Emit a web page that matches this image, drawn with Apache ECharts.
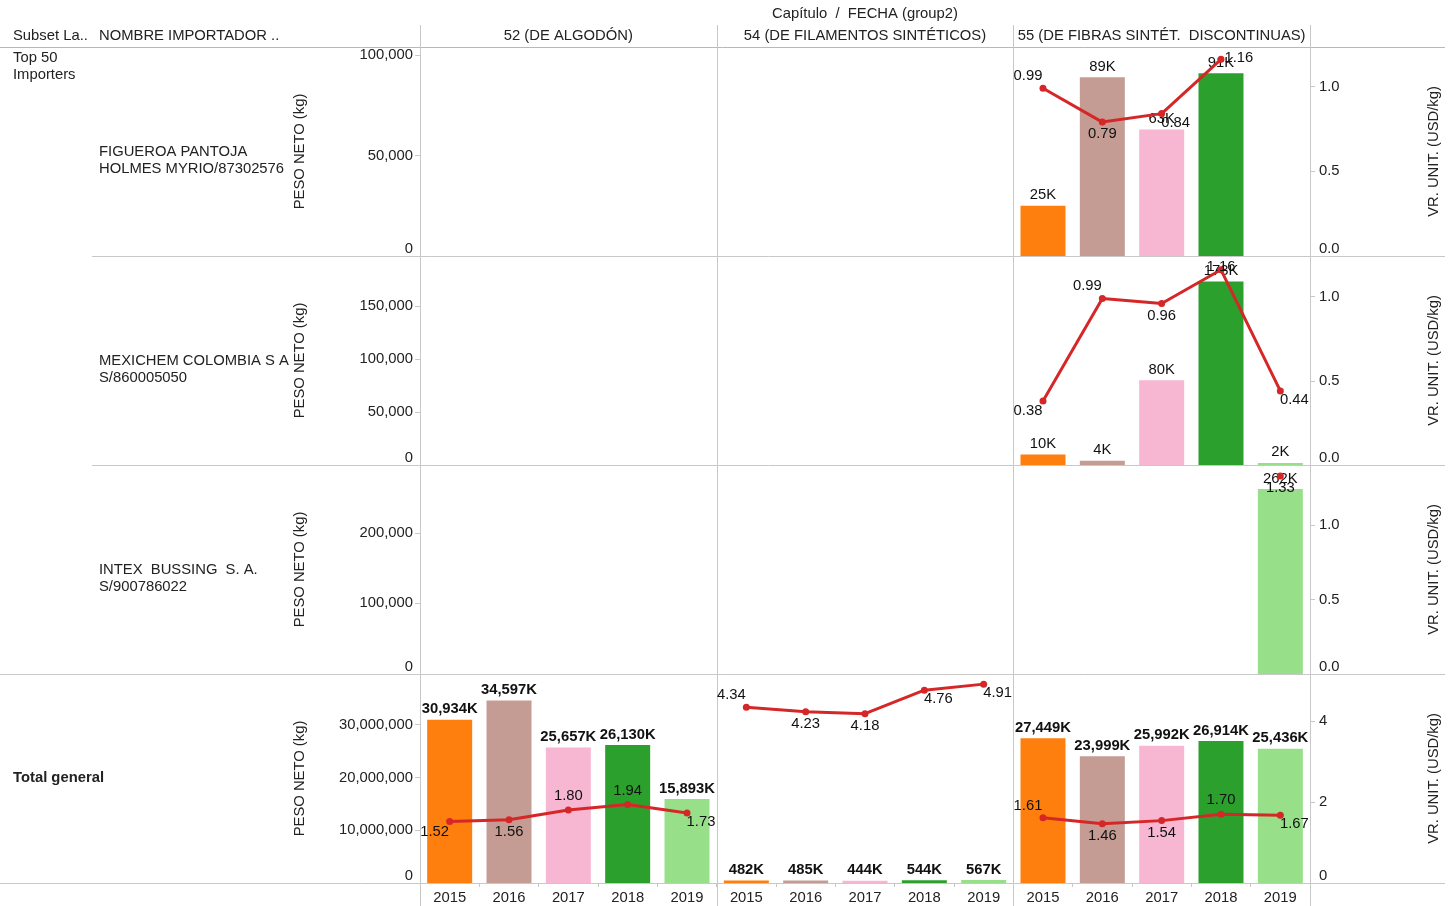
<!DOCTYPE html>
<html><head><meta charset="utf-8">
<script src="https://cdn.jsdelivr.net/npm/echarts@6/dist/echarts.min.js"></script>
<style>html,body{margin:0;padding:0;background:#fff}#c{width:1450px;height:906px}</style>
</head><body><div id="c"></div>
<script>
// ---------- DATA ----------
const years = ['2015', '2016', '2017', '2018', '2019'];
const chapters = ['52 (DE ALGODÓN)', '54 (DE FILAMENTOS SINTÉTICOS)', '55 (DE FIBRAS SINTÉT.  DISCONTINUAS)'];
const importers = ['FIGUEROA PANTOJA\nHOLMES MYRIO/87302576', 'MEXICHEM COLOMBIA S A\nS/860005050', 'INTEX  BUSSING  S. A.\nS/900786022'];

// PESO NETO (kg)
const pesoFigueroa55 = [25000, 89000, 63000, 91000, null];
const pesoMexichem55 = [10000, 4000, 80000, 173000, 2000];
const pesoIntex55 = [null, null, null, null, 262000];
const pesoTotal52 = [30934000, 34597000, 25657000, 26130000, 15893000];
const pesoTotal54 = [482000, 485000, 444000, 544000, 567000];
const pesoTotal55 = [27449000, 23999000, 25992000, 26914000, 25436000];

// VR. UNIT. (USD/kg)
const vrFigueroa55 = [0.99, 0.79, 0.84, 1.16, null];
const vrMexichem55 = [0.38, 0.99, 0.96, 1.16, 0.44];
const vrIntex55 = [null, null, null, null, 1.33];
const vrTotal52 = [1.52, 1.56, 1.80, 1.94, 1.73];
const vrTotal54 = [4.34, 4.23, 4.18, 4.76, 4.91];
const vrTotal55 = [1.61, 1.46, 1.54, 1.70, 1.67];

// tick labels per row
const pesoTicks = [[0, 50000, 100000], [0, 50000, 100000, 150000], [0, 100000, 200000], [0, 10000000, 20000000, 30000000]];
const vrTicks = [[0, 0.5, 1.0], [0, 0.5, 1.0], [0, 0.5, 1.0], [0, 2, 4]];

// ---------- LAYOUT / STYLE ----------
const pesoMax = [104000, 197000, 296000, 39600000];
const vrMax = [1.233, 1.242, 1.404, 5.16];
const vrDecimals = [1, 1, 1, 0];
const yearColors = ['#ff7f0e', '#c49c94', '#f7b6d2', '#2ca02c', '#98df8a'];
const lineColor = '#d62728';
const FONT = '"Liberation Sans", Arial, sans-serif';
const FS = 14.8;
const TXT = '#222';
const SEP = '#c8c8c8';

// cell map: [row][col]
const cells = [
  [null, null, {peso: pesoFigueroa55, vr: vrFigueroa55}],
  [null, null, {peso: pesoMexichem55, vr: vrMexichem55}],
  [null, null, {peso: pesoIntex55, vr: vrIntex55}],
  [{peso: pesoTotal52, vr: vrTotal52}, {peso: pesoTotal54, vr: vrTotal54}, {peso: pesoTotal55, vr: vrTotal55}]
];
// label placement for VR labels (style only)
const vrPlace = {
  '0_2': ['tl', 'b', 'br', 'r', 'b'],
  '1_2': ['bl', 'tl', 'b', 'c', 'br'],
  '2_2': ['b', 'b', 'b', 'b', 'b'],
  '3_0': ['bl', 'b', 't', 't', 'br'],
  '3_1': ['tl', 'b', 'b', 'br', 'br'],
  '3_2': ['tl', 'b', 'b', 't', 'br']
};
const placeCfg = {
  tl: {position: 'top', distance: 3, offset: [-15, 2]},
  t: {position: 'top', distance: 3, offset: [0, 0]},
  b: {position: 'bottom', distance: 1, offset: [0, 0]},
  bl: {position: 'bottom', distance: 1, offset: [-15, -2]},
  br: {position: 'bottom', distance: 1, offset: [14, -3]},
  r: {position: 'right', distance: 0, offset: [0, -1]},
  c: {position: 'top', distance: 0, offset: [0, 8]}
};

const colX = [420, 716.67, 1013.33];
const colW = 296.67;
const rowY = [47, 256, 465, 674];
const rowH = 209;

function fmtK(v) { return Math.round(v / 1000).toLocaleString('en-US') + 'K'; }

const grids = [], xAxes = [], yAxes = [], series = [];
for (let r = 0; r < 4; r++) {
  for (let c = 0; c < 3; c++) {
    const k = r * 3 + c;
    grids.push({left: colX[c], top: rowY[r], width: colW, height: rowH, outerBoundsMode: 'none', containLabel: false});
    xAxes.push({
      type: 'category', gridIndex: k, data: years, boundaryGap: true,
      axisLine: {show: false},
      axisTick: {show: r === 3, length: 4, lineStyle: {color: SEP}},
      axisLabel: {show: r === 3, margin: 7, color: TXT, fontFamily: FONT, fontSize: FS},
      splitLine: {show: false}
    });
    yAxes.push({
      type: 'value', gridIndex: k, position: 'left', min: 0, max: pesoMax[r],
      splitLine: {show: false}, axisLine: {show: false},
      axisTick: {show: c === 0, length: 5, customValues: pesoTicks[r], lineStyle: {color: SEP}},
      axisLabel: {show: c === 0, customValues: pesoTicks[r], margin: 7, color: TXT, fontFamily: FONT, fontSize: FS,
        verticalAlignMinLabel: 'bottom',
        formatter: v => Number(v).toLocaleString('en-US')},
      name: c === 0 ? 'PESO NETO (kg)' : '', nameLocation: 'middle', nameRotate: 90, nameGap: 113,
      nameTextStyle: {color: TXT, fontFamily: FONT, fontSize: FS}
    });
    yAxes.push({
      type: 'value', gridIndex: k, position: 'right', min: 0, max: vrMax[r],
      splitLine: {show: false}, axisLine: {show: false},
      axisTick: {show: c === 2, length: 5, customValues: vrTicks[r], lineStyle: {color: SEP}},
      axisLabel: {show: c === 2, customValues: vrTicks[r], margin: 9, color: TXT, fontFamily: FONT, fontSize: FS,
        verticalAlignMinLabel: 'bottom',
        formatter: v => Number(v).toFixed(vrDecimals[r])},
      name: c === 2 ? 'VR. UNIT. (USD/kg)' : '', nameLocation: 'middle', nameRotate: 90, nameGap: 116,
      nameTextStyle: {color: TXT, fontFamily: FONT, fontSize: FS}
    });
    const cell = cells[r][c];
    if (!cell) continue;
    series.push({
      type: 'bar', xAxisIndex: k, yAxisIndex: 2 * k, barWidth: 45, z: 2,
      data: cell.peso,
      itemStyle: {color: p => yearColors[p.dataIndex]},
      label: {show: true, position: 'top', distance: 3, color: '#111', fontFamily: FONT, fontSize: FS,
        fontWeight: r === 3 ? 'bold' : 'normal',
        formatter: p => (p.value == null ? '' : fmtK(p.value))}
    });
    const place = vrPlace[r + '_' + c];
    series.push({
      type: 'line', xAxisIndex: k, yAxisIndex: 2 * k + 1, z: 4,
      symbol: 'circle', symbolSize: 7, showAllSymbol: true,
      lineStyle: {color: lineColor, width: 3}, itemStyle: {color: lineColor},
      data: cell.vr.map((v, i) => ({
        value: v,
        label: Object.assign({show: v != null, color: '#111', fontFamily: FONT, fontSize: FS,
          formatter: p => Number(p.value).toFixed(2)}, placeCfg[place[i]])
      }))
    });
  }
}

// structure lines and header texts
const graphics = [];
function hline(y, x1, x2, color) { graphics.push({type: 'line', silent: true, z: 0, shape: {x1, y1: y + 0.5, x2, y2: y + 0.5}, style: {stroke: color || SEP, lineWidth: 1}}); }
function vline(x, y1, y2, color) { graphics.push({type: 'line', silent: true, z: 0, shape: {x1: x + 0.5, y1, x2: x + 0.5, y2}, style: {stroke: color || SEP, lineWidth: 1}}); }
function txt(x, y, text, extra) {
  graphics.push({type: 'text', silent: true, x, y, style: Object.assign({
    text, fill: TXT, font: FS + 'px ' + FONT, align: 'left', verticalAlign: 'middle',
    textAlign: 'left', textVerticalAlign: 'middle', lineHeight: 17
  }, extra || {})});
}
hline(47, 0, 1445, '#b8b8b8');
hline(256, 92, 1445);
hline(465, 92, 1445);
hline(674, 0, 1445);
hline(883, 0, 1445);
[420, 717, 1013, 1310].forEach(x => vline(x, 25, 906));

txt(865, 14, 'Capítulo  /  FECHA (group2)', {align: 'center', textAlign: 'center'});
chapters.forEach((ch, c) => txt(colX[c] + colW / 2, 36, ch, {align: 'center', textAlign: 'center'}));
txt(13, 36, 'Subset La..');
txt(99, 36, 'NOMBRE IMPORTADOR ..');
txt(13, 66, 'Top 50\nImporters');
importers.forEach((nm, r) => txt(99, rowY[r] + rowH / 2 + 9, nm));
txt(13, 778, 'Total general', {font: 'bold ' + FS + 'px ' + FONT});

const chart = echarts.init(document.getElementById('c'), null, {renderer: 'canvas'});
chart.setOption({
  animation: false,
  backgroundColor: '#fff',
  grid: grids, xAxis: xAxes, yAxis: yAxes, series,
  graphic: graphics
});
</script></body></html>
